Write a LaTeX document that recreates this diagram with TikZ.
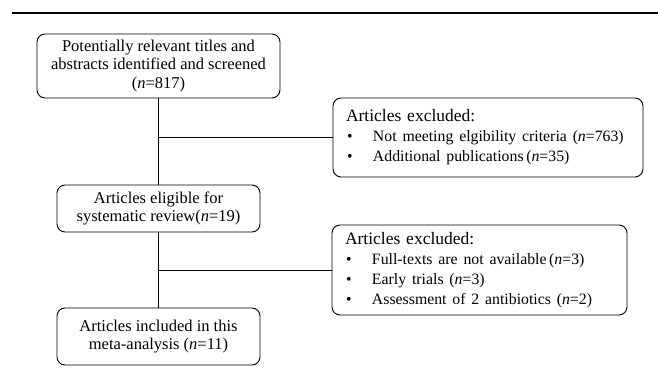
\documentclass[tikz,border=0pt]{standalone}
\usepackage{fontspec}
\setmainfont{Liberation Serif}
\begin{document}
\begin{tikzpicture}[x=1pt,y=-1pt,
  box/.style={draw,line width=0.9pt,rounded corners=8pt,inner sep=0pt,font=\fontsize{16.5}{18.8}\selectfont,align=center},
  exbox/.style={draw,line width=0.9pt,rounded corners=8pt,inner xsep=13pt,inner ysep=0pt,font=\fontsize{17.5}{20}\selectfont,align=left},
  conn/.style={line width=0.9pt}]
\useasboundingbox (0,0) rectangle (658,367);
\coordinate (r1) at (12,13);
\coordinate (r2) at (658,13);
\draw[line width=2.6pt] (r1) -- (r2);
\newcommand{\bitem}[1]{\makebox[0pt][l]{\fontsize{15.8}{20}\selectfont\makebox[27pt][l]{\hspace{1pt}\textbullet}#1}}
\node[box,minimum width=243pt,minimum height=64pt] (b1) at (158.5,66)
  {Potentially relevant titles and\\abstracts identified and screened\\(\textit{n}=817)};
\node[box,minimum width=203pt,minimum height=47pt] (b2) at (158.5,208.5)
  {Articles eligible for\\systematic review(\textit{n}=19)};
\node[box,minimum width=203pt,minimum height=57pt] (b3) at (158.5,336.5)
  {\raisebox{-3pt}{\parbox{200pt}{\centering Articles included in this\\meta-analysis (\textit{n}=11)}}};
\node[exbox,text width=284pt,minimum height=79pt] (ea) at (488,137.5)
  {Articles excluded:\\\bitem{Not meeting elgibility criteria (\textit{n}=763)}\\\bitem{Additional publications\,(\textit{n}=35)}};
\node[exbox,text width=269pt,minimum height=90pt] (eb) at (479.5,270)
  {Articles excluded:\\\bitem{Full-texts are not available\,(\textit{n}=3)}\\\bitem{Early trials (\textit{n}=3)}\\\bitem{Assessment of 2 antibiotics (\textit{n}=2)}};
\coordinate (c1) at (b1.south |- ea.west);
\coordinate (c2) at (b2.south |- eb.west);
\draw[conn] (b1.south) -- (b2.north);
\draw[conn] (c1) -- (ea.west);
\draw[conn] (b2.south) -- (b3.north);
\draw[conn] (c2) -- (eb.west);
\end{tikzpicture}
\end{document}
